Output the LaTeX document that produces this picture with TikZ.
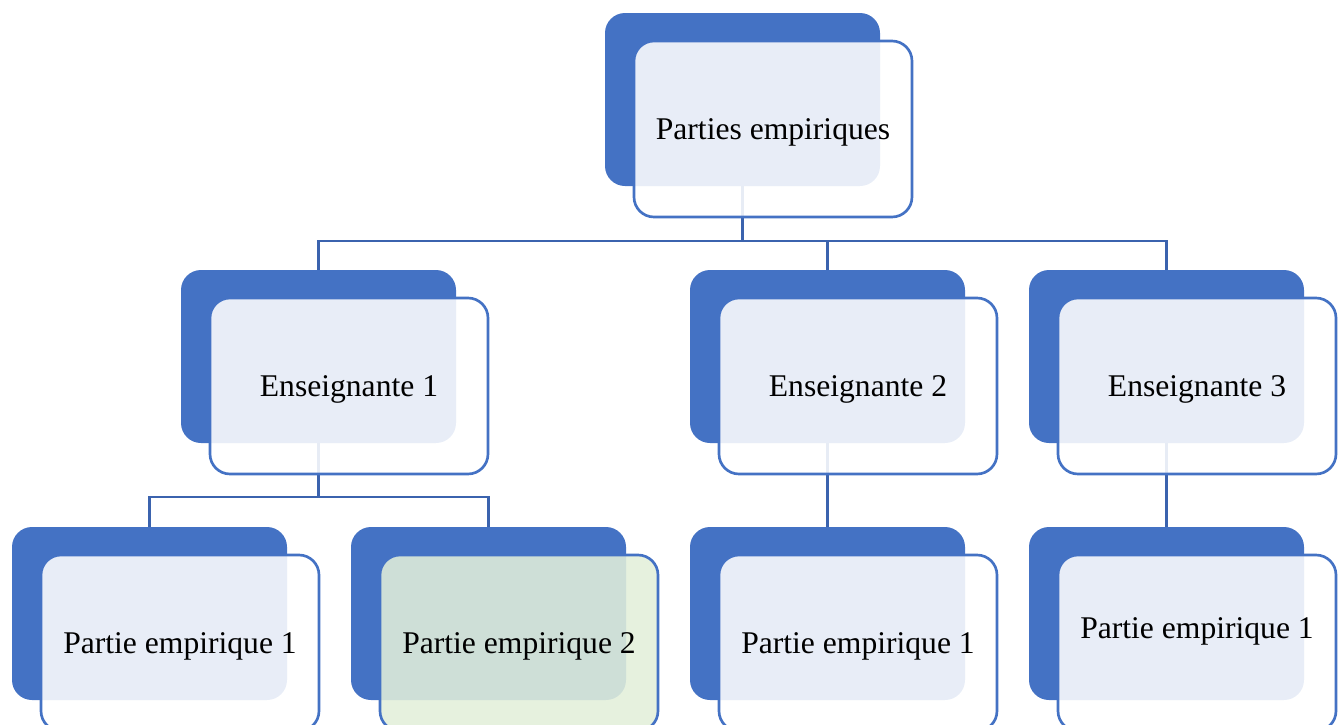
\documentclass[tikz,border=0pt]{standalone}
\usepackage{fontspec}
\setmainfont{Liberation Serif}
\definecolor{boxblue}{HTML}{4472C4}
\definecolor{linkblue}{HTML}{3B63AE}
\definecolor{palegreen}{HTML}{E2EFDA}
\begin{document}
\begin{tikzpicture}[x=0.75pt,y=-0.75pt,
  backbox/.style={rectangle,rounded corners=15pt,fill=boxblue,draw=none,
    minimum width=206.25pt,minimum height=129.75pt,inner sep=0pt},
  frontbox/.style={rectangle,rounded corners=15pt,draw=boxblue,line width=2pt,
    fill=white,fill opacity=0.88,text opacity=1,
    minimum width=208.5pt,minimum height=132pt,inner sep=0pt,
    text height=18pt,text depth=2.5pt,
    font=\fontsize{23.7}{28}\selectfont},
  greenbox/.style={frontbox,fill=palegreen},
  raisedtext/.style={text height=0pt,text depth=7pt},
  conn/.style={draw=linkblue,line width=2pt}]
\useasboundingbox (0,0) rectangle (1343,725);
% back boxes
\node[backbox] (b0) at (742.5,99.5) {};
\node[backbox] (b1) at (318.5,356.5) {};
\node[backbox] (b2) at (827.5,356.5) {};
\node[backbox] (b3) at (1166.5,356.5) {};
\node[backbox] (b11) at (149.5,613.5) {};
\node[backbox] (b12) at (488.5,613.5) {};
\node[backbox] (b21) at (827.5,613.5) {};
\node[backbox] (b31) at (1166.5,613.5) {};
% connectors
\coordinate (j0) at (742.5,241);
\coordinate (j1) at (318.5,497);
\draw[conn] (b0.south) -- (j0);
\draw[conn] (j0) -| (b1.north);
\draw[conn] (j0) -| (b2.north);
\draw[conn] (j0) -| (b3.north);
\draw[conn] (b1.south) -- (j1);
\draw[conn] (j1) -| (b11.north);
\draw[conn] (j1) -| (b12.north);
\draw[conn] (b2.south) -- (b21.north);
\draw[conn] (b3.south) -- (b31.north);
% front boxes
\node[frontbox] (f0) at (773,129) {Parties empiriques};
\node[frontbox] (f1) at (349,386) {Enseignante 1};
\node[frontbox] (f2) at (858,386) {Enseignante 2};
\node[frontbox] (f3) at (1197,386) {Enseignante 3};
\node[frontbox] (f11) at (180,643) {Partie empirique 1};
\node[greenbox] (f12) at (519,643) {Partie empirique 2};
\node[frontbox] (f21) at (858,643) {Partie empirique 1};
\node[frontbox,raisedtext] (f31) at (1197,643) {Partie empirique 1};
\end{tikzpicture}
\end{document}
